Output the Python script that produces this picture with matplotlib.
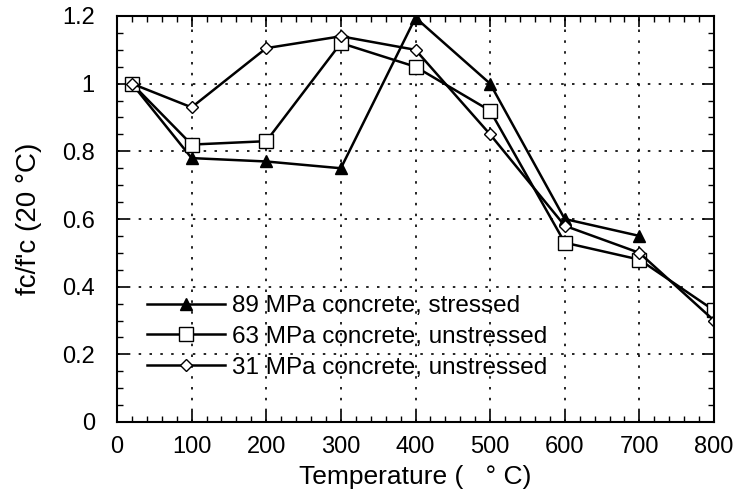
import matplotlib
matplotlib.use('Agg')
import matplotlib.pyplot as plt
from matplotlib.ticker import MultipleLocator

plt.rcParams['font.family'] = ['Liberation Sans', 'DejaVu Sans']

# data
temp_89 = [20, 100, 200, 300, 400, 500, 600, 700]
ratio_89 = [1.0, 0.78, 0.77, 0.75, 1.195, 1.0, 0.6, 0.55]

temp_63 = [20, 100, 200, 300, 400, 500, 600, 700, 800]
ratio_63 = [1.0, 0.82, 0.83, 1.12, 1.05, 0.92, 0.53, 0.48, 0.33]

temp_31 = [20, 100, 200, 300, 400, 500, 600, 700, 800]
ratio_31 = [1.0, 0.93, 1.105, 1.14, 1.10, 0.85, 0.58, 0.50, 0.30]

labels = ['89 MPa concrete, stressed',
          '63 MPa concrete, unstressed',
          '31 MPa concrete, unstressed']

fig = plt.figure(figsize=(7.33, 4.95), dpi=100)
ax = fig.add_axes([117/733, 1 - 422/495, (714-117)/733, (422-16)/495])

ax.plot(temp_89, ratio_89, color='black', lw=1.8, marker='^', ms=9,
        mfc='black', mec='black', label=labels[0])
ax.plot(temp_63, ratio_63, color='black', lw=1.8, marker='s', ms=10,
        mfc='white', mec='black', mew=1.0, label=labels[1])
ax.plot(temp_31, ratio_31, color='black', lw=1.8, marker='D', ms=6,
        mfc='white', mec='black', mew=1.0, label=labels[2])

ax.set_xlim(0, 800)
ax.set_ylim(0, 1.2)
ax.xaxis.set_major_locator(MultipleLocator(100))
ax.xaxis.set_minor_locator(MultipleLocator(20))
ax.yaxis.set_minor_locator(MultipleLocator(0.05))
ax.set_yticks([0, 0.2, 0.4, 0.6, 0.8, 1.0, 1.2])
ax.set_yticklabels(['0', '0.2', '0.4', '0.6', '0.8', '1', '1.2'])

ax.tick_params(which='both', direction='in', top=True, right=True,
               labelsize=17)
ax.tick_params(which='major', length=8, width=1.2)
ax.tick_params(which='minor', length=4, width=1.0)
ax.tick_params(axis='y', pad=16)
ax.tick_params(axis='x', pad=10)
ax.grid(True, which='major', linestyle=(0, (1.5, 5)), color='black', lw=1.2)
for s in ax.spines.values():
    s.set_linewidth(1.5)

ax.set_xlabel('Temperature (   ° C)', fontsize=19, labelpad=5)
ax.set_ylabel("fc/f'c (20 °C)", fontsize=20, labelpad=14)

ax.legend(loc='upper left', bbox_to_anchor=(147/733, 1 - 295/495),
          bbox_transform=fig.transFigure, frameon=False,
          fontsize=17.5, handlelength=3.2, handletextpad=0.3,
          labelspacing=0.36, borderpad=0, borderaxespad=0)

fig.savefig('out.png', dpi=100)
